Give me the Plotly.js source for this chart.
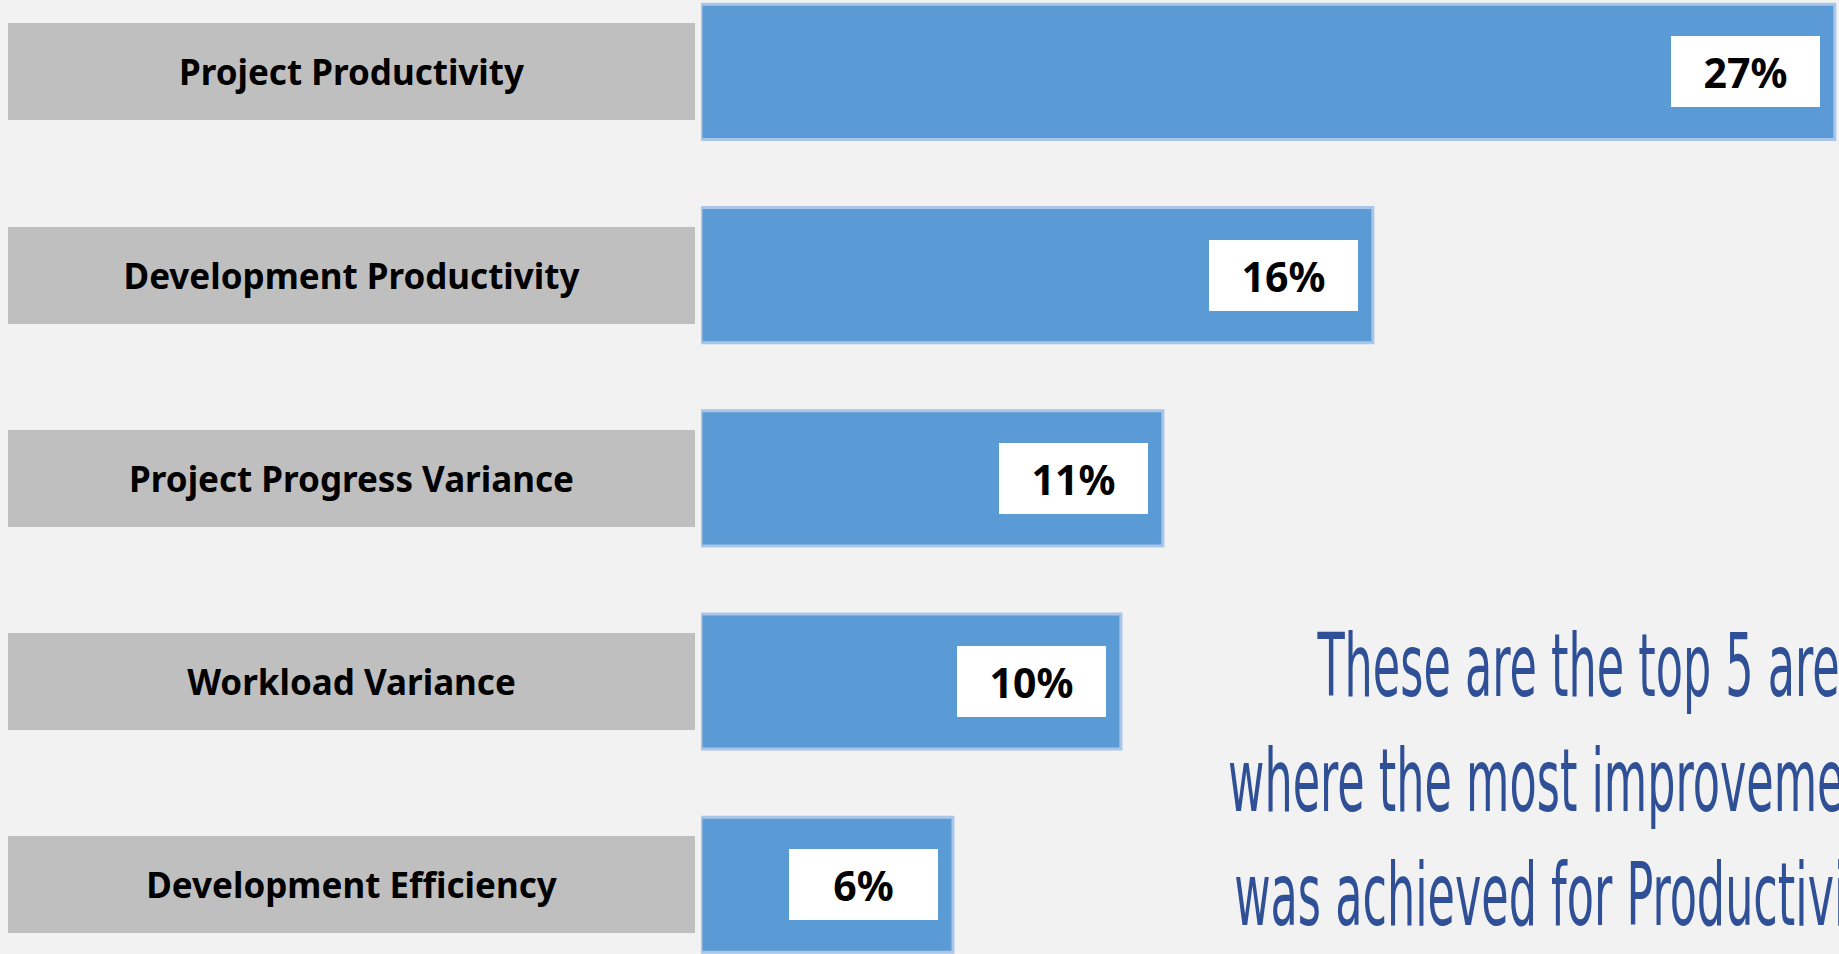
<!DOCTYPE html>
<html>
<head>
<meta charset="utf-8">
<script src="https://cdn.plot.ly/plotly-3.0.1.min.js"></script>
<style>
html,body{margin:0;padding:0;background:#f2f2f2;overflow:hidden;}
#chart{width:1839px;height:954px;}
</style>
</head>
<body>
<div id="chart"></div>
<script>
// ---- data ----
const categories = [
  'Project Productivity',
  'Development Productivity',
  'Project Progress Variance',
  'Workload Variance',
  'Development Efficiency'
];
const improvement = [27, 16, 11, 10, 6];
const valueLabels = improvement.map(v => v + '%');
const noteLines = [
  'These are the top 5 areas',
  'where the most improvement',
  'was achieved for Productivity'
];

// ---- styles ----
const BAR_BLUE = '#5b9bd5';
const BAR_EDGE = '#a9c5e7';
const LABEL_GREY = '#bfbfbf';
const NOTE_BLUE = '#2f4f96';
const W = 1839, H = 954;

const trace = {
  type: 'bar',
  orientation: 'h',
  x: improvement,
  y: categories,
  width: 0.665,
  marker: {color: BAR_BLUE, line: {color: BAR_EDGE, width: 3}},
  hoverinfo: 'skip'
};

const annotations = [];
categories.forEach((c, i) => {
  // grey category label box
  annotations.push({
    xref: 'paper', yref: 'y', x: 0, y: c, xanchor: 'left', yanchor: 'middle',
    xshift: 8, width: 687, height: 97, bgcolor: LABEL_GREY, borderpad: 0, borderwidth: 0,
    showarrow: false, align: 'center', valign: 'middle',
    text: '<b>' + c + '</b>',
    font: {family: 'Noto Sans, Open Sans, sans-serif', size: 35, color: '#000000'}
  });
  // white value box at the bar end
  annotations.push({
    xref: 'x', yref: 'y', x: improvement[i], y: c, xanchor: 'right', yanchor: 'middle',
    xshift: -15, width: 149, height: 71, bgcolor: '#ffffff', borderpad: 0, borderwidth: 0,
    showarrow: false, align: 'center', valign: 'middle',
    text: '<b>' + valueLabels[i] + '</b>',
    font: {family: 'Noto Sans, Open Sans, sans-serif', size: 41, color: '#000000'}
  });
});
// note text on the right (cut by the right edge, as in the reference)
annotations.push({
  xref: 'paper', yref: 'paper', x: 1892 / W, y: 1 - 780 / H, xanchor: 'right', yanchor: 'middle',
  showarrow: false, align: 'right', text: noteLines.join('<br>'),
  font: {family: 'Liberation Sans Narrow, DejaVu Sans Condensed, Arial Narrow, sans-serif', size: 49.5, color: NOTE_BLUE}
});

const layout = {
  width: W, height: H,
  margin: {l: 0, r: 0, t: 0, b: 0, pad: 0},
  paper_bgcolor: '#f2f2f2',
  plot_bgcolor: 'rgba(0,0,0,0)',
  showlegend: false,
  bargap: 0,
  xaxis: {
    domain: [701 / W, 1], range: [0, 27.1],
    showgrid: false, zeroline: false, showticklabels: false, showline: false, ticks: ''
  },
  yaxis: {
    type: 'category', categoryorder: 'array', categoryarray: categories,
    range: [4.341, -0.354],
    showgrid: false, zeroline: false, showticklabels: false, showline: false, ticks: ''
  },
  annotations: annotations
};

Plotly.newPlot('chart', [trace], layout, {staticPlot: true, displayModeBar: false}).then(gd => {
  // stretch the tall, narrow note text vertically (it stays real text)
  const texts = gd.querySelectorAll('text.annotation-text');
  const k = 1.78;
  texts.forEach(t => {
    if (t.textContent.indexOf('These are') === 0) {
      const bb = t.getBBox();
      const cy = bb.y + bb.height / 2;
      const prev = t.getAttribute('transform') || '';
      t.setAttribute('transform', prev + ' translate(0 ' + cy + ') scale(1 ' + k + ') translate(0 ' + (-cy) + ')');
    }
  });
});
</script>
</body>
</html>
